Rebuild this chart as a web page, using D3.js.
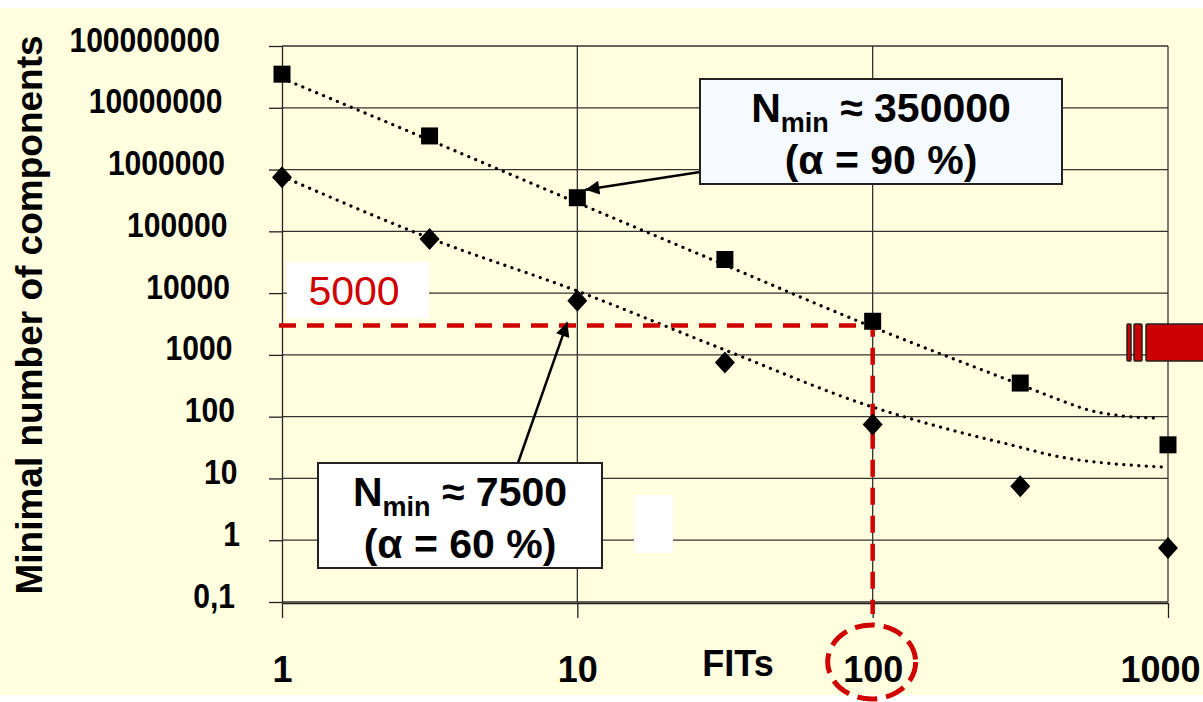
<!DOCTYPE html>
<html lang="en">
<head>
    <meta charset="utf-8">
    <title>Nmin vs FITs</title>
    <script src="https://cdn.jsdelivr.net/npm/d3@7"></script>
    <style type="text/css">
        body { margin: 0; background: #fff; }
        svg { display: block; }
        text { font-family: "Liberation Sans", Arial, sans-serif; }
        .axis path, .axis line { stroke: #222; stroke-width: 1.3; }
        .grid line { stroke: #333; stroke-width: 1.3; }
    </style>
</head>
<body>
    <div id="chart"></div>
    <script>
        // data
        var fits = [1, 3.16, 10, 31.6, 100, 316, 1000];
        var n90 = [35000000, 3500000, 350000, 35000, 3500, 350, 35];
        var n60 = [750000, 75000, 7500, 750, 75, 7.5, 0.75];

        // dotted trend curves (points picked along the drawn curves)
        var trend90X = [1, 3.16, 10, 31.6, 100, 316, 438, 524, 710, 918];
        var trend90Y = [30000000, 3000000, 290000, 28500, 2820, 330, 180, 133, 102, 95];
        var trend60X = [1, 3.16, 10, 31.6, 100, 184, 316, 400, 962];
        var trend60Y = [780000, 77600, 10800, 1200, 143, 61, 32, 24, 15.3];

        var yTicks = [0.1, 1, 10, 100, 1000, 10000, 100000, 1000000, 10000000, 100000000];
        var yTickLabels = ["0,1", "1", "10", "100", "1000", "10000", "100000", "1000000", "10000000", "100000000"];
        var xTicks = [1, 10, 100, 1000];

        var targetFits = 100, targetN = 3000;

        var W = 1203, H = 702;
        var svg = d3.select("#chart").append("svg")
            .attr("width", W)
            .attr("height", H);

        svg.append("rect")
            .attr("x", 0).attr("y", 8)
            .attr("width", W).attr("height", 687)
            .attr("fill", "#ffffe0");

        var x = d3.scaleLog().domain([1, 1000]).range([282, 1168]);
        var y = d3.scaleLog().domain([0.1, 100000000]).range([602, 46]);

        //grid
        svg.append("g").attr("class", "grid")
            .selectAll("line.h")
            .data(yTicks)
            .enter()
            .append("line")
            .attr("x1", x(1)).attr("x2", x(1000))
            .attr("y1", d => y(d)).attr("y2", d => y(d));

        svg.append("g").attr("class", "grid")
            .selectAll("line.v")
            .data(xTicks.slice(1))
            .enter()
            .append("line")
            .attr("x1", d => x(d)).attr("x2", d => x(d))
            .attr("y1", y(100000000)).attr("y2", y(0.1));

        //white patches
        svg.append("rect").attr("x", 634).attr("y", 495).attr("width", 39).attr("height", 58).attr("fill", "#fff");
        svg.append("rect").attr("x", 287).attr("y", 262).attr("width", 142).attr("height", 57).attr("fill", "#fff");

        //axes
        var yAxis = svg.append("g").attr("class", "axis")
            .attr("transform", "translate(" + x(1) + ",0)")
            .call(d3.axisLeft(y).tickValues(yTicks).tickSize(13).tickSizeOuter(0)
                .tickFormat((d, i) => yTickLabels[i]));
        // long labels sit a little further left, as in the original
        yAxis.selectAll("text")
            .attr("x", 0).attr("dy", 0)
            .attr("transform", (d, i) => "translate(" + (-42 - 2.5 * (yTickLabels[i].length - 1)) + ",5) scale(0.86,1)")
            .attr("fill", "#000")
            .style("font-size", "35px")
            .style("font-weight", "bold");

        var xAxis = svg.append("g").attr("class", "axis")
            .attr("transform", "translate(0," + (y(0.1) + 1) + ")")
            .call(d3.axisBottom(x).tickValues(xTicks).tickSize(15).tickSizeOuter(0)
                .tickFormat(d3.format("d")));
        xAxis.selectAll("text")
            .attr("y", 79).attr("dy", 0)
            .attr("dx", d => d === 1000 ? -8 : 0)
            .attr("fill", "#000")
            .style("font-size", "36px")
            .style("font-weight", "bold");

        svg.append("text")
            .attr("x", 738).attr("y", 676)
            .attr("text-anchor", "middle")
            .style("font-size", "36px").style("font-weight", "bold")
            .text("FITs");

        svg.append("text")
            .attr("transform", "translate(42,315) rotate(-90)")
            .attr("text-anchor", "middle")
            .style("font-size", "37px").style("font-weight", "bold")
            .text("Minimal number of components");

        //trend lines
        var line = d3.line()
            .x(d => x(d[0]))
            .y(d => y(d[1]))
            .curve(d3.curveMonotoneX);

        [[trend90X, trend90Y], [trend60X, trend60Y]].forEach(function (t) {
            svg.append("path")
                .datum(t[0].map((v, i) => [v, t[1][i]]))
                .attr("d", line)
                .attr("fill", "none")
                .attr("stroke", "#000")
                .attr("stroke-width", 3.2)
                .attr("stroke-linecap", "round")
                .attr("stroke-dasharray", "0.1,7.4");
        });

        //red threshold lines
        svg.append("path")
            .attr("d", "M" + (x(1) - 3) + "," + y(targetN) + "H" + x(targetFits) + "V" + 614)
            .attr("fill", "none")
            .attr("stroke", "#d00000")
            .attr("stroke-width", 4.5)
            .attr("stroke-dasharray", "17,11");

        svg.append("ellipse")
            .attr("cx", x(targetFits) - 1).attr("cy", 662)
            .attr("rx", 44).attr("ry", 37)
            .attr("fill", "none")
            .attr("stroke", "#d00000")
            .attr("stroke-width", 5)
            .attr("stroke-dasharray", "20,9");

        svg.append("text")
            .attr("x", 354).attr("y", 305)
            .attr("text-anchor", "middle")
            .attr("fill", "#d00000")
            .style("font-size", "41px")
            .text("5000");

        //markers
        svg.selectAll("rect.sq")
            .data(fits)
            .enter()
            .append("rect")
            .attr("class", "sq")
            .attr("x", (d, i) => x(d) - 8.5)
            .attr("y", (d, i) => y(n90[i]) - 8.5)
            .attr("width", 17).attr("height", 17)
            .attr("fill", "#000");

        svg.selectAll("path.dm")
            .data(fits)
            .enter()
            .append("path")
            .attr("class", "dm")
            .attr("d", (d, i) => {
                var cx = x(d), cy = y(n60[i]);
                return "M" + cx + "," + (cy - 11) + "L" + (cx + 10) + "," + cy + "L" + cx + "," + (cy + 11) + "L" + (cx - 10) + "," + cy + "Z";
            })
            .attr("fill", "#000");

        //red block on the right
        var blocks = [[1127, 4], [1134, 8], [1146, 62]];
        svg.selectAll("rect.blk")
            .data(blocks)
            .enter()
            .append("rect")
            .attr("x", d => d[0]).attr("y", 324)
            .attr("width", d => d[1]).attr("height", 37)
            .attr("rx", 1)
            .attr("fill", "#cc0000")
            .attr("stroke", "#222")
            .attr("stroke-width", 1.5);

        //arrows
        var defs = svg.append("defs");
        defs.append("marker")
            .attr("id", "arr")
            .attr("viewBox", "0 0 10 10")
            .attr("refX", 10).attr("refY", 5)
            .attr("markerUnits", "userSpaceOnUse")
            .attr("markerWidth", 18).attr("markerHeight", 14)
            .attr("orient", "auto")
            .append("path")
            .attr("d", "M0,0L10,5L0,10Z")
            .attr("fill", "#000");

        svg.append("line")
            .attr("x1", 700).attr("y1", 172)
            .attr("x2", x(10) + 8).attr("y2", y(350000) - 8)
            .attr("stroke", "#000").attr("stroke-width", 2.5)
            .attr("marker-end", "url(#arr)");

        svg.append("line")
            .attr("x1", 518).attr("y1", 463)
            .attr("x2", x(10) - 10).attr("y2", y(targetN) - 3)
            .attr("stroke", "#000").attr("stroke-width", 2.5)
            .attr("marker-end", "url(#arr)");

        //annotation boxes
        function noteBox(bx, by, bw, bh, fill, num, pct) {
            svg.append("rect")
                .attr("x", bx).attr("y", by)
                .attr("width", bw).attr("height", bh)
                .attr("fill", fill)
                .attr("stroke", "#222")
                .attr("stroke-width", 2);
            var t = svg.append("text")
                .attr("x", bx + bw / 2).attr("y", by + 43)
                .attr("text-anchor", "middle")
                .style("font-size", "41px").style("font-weight", "bold");
            t.append("tspan").text("N");
            t.append("tspan").attr("dy", 10).style("font-size", "27px").text("min");
            t.append("tspan").attr("dy", -10).text(" \u2248 " + num);
            svg.append("text")
                .attr("x", bx + bw / 2).attr("y", by + 95)
                .attr("text-anchor", "middle")
                .style("font-size", "41px").style("font-weight", "bold")
                .text("(\u03b1 = " + pct + " %)");
        }
        noteBox(700, 79, 362, 105, "#f5faff", "350000", 90);
        noteBox(318, 463, 284, 105, "#ffffff", "7500", 60);
    </script>
</body>
</html>
